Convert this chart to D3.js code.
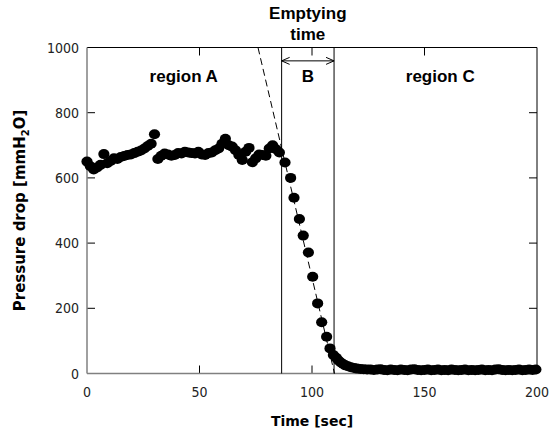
<!DOCTYPE html>
<html lang="en">
<head>
    <meta charset="UTF-8">
    <title>Pressure drop vs time</title>
    <script src="https://d3js.org/d3.v7.min.js"></script>
    <style>
        body { margin: 0; background: #fff; }
        .tick-label { font-family: "DejaVu Sans", sans-serif; font-stretch: condensed; font-size: 14px; fill: #222; }
        .axis-title { font-family: "DejaVu Sans", sans-serif; font-weight: bold; font-size: 14px; fill: #000; }
        .note { font-family: "Liberation Sans", Arial, sans-serif; font-weight: bold; font-size: 17px; fill: #000; text-anchor: middle; }
    </style>
</head>
<body>
<svg width="556" height="431"></svg>
<script>
    // measured points
    const timeA = [0, 1.5, 3, 4.5, 6, 7.5, 9, 10.5, 12, 13.5, 15, 16.5, 18, 19.5, 21, 22.5, 24, 25.5, 27, 28.5,
        30, 31.5, 33, 34.5, 36, 37.5, 39, 40.5, 42, 43.5, 45, 46.5, 48, 49.5, 51, 52.5, 54, 55.5, 57, 58.5,
        60, 61.5, 63, 64.5, 66, 67.5, 69, 70.5, 72, 73.5, 75, 76.5, 78, 79.5, 81, 82.5, 84, 85.5];
    const pressA = [650, 636, 626, 632, 640, 673, 645, 652, 660, 658, 664, 667, 670, 672, 676, 680, 684, 690, 698, 705,
        734, 658, 668, 675, 672, 668, 670, 676, 675, 680, 678, 676, 675, 680, 672, 670, 676, 678, 685, 690,
        705, 720, 700, 696, 685, 670, 655, 680, 692, 648, 660, 672, 670, 668, 690, 700, 688, 678];
    const timeB = [88, 90.5, 92, 94.4, 96.1, 98.4, 100.3, 102.5, 104.3, 106.5, 108, 109.5];
    const pressB = [647, 600, 539, 474, 423, 371, 297, 215, 157, 113, 77, 57];
    const timeC = [110.8, 111.8, 112.8, 113.8, 114.8, 116, 117.3, 118.7, 120, 121.5, 123, 124.5, 126, 127.5, 129,
        130.5, 132, 133.5, 135, 136.5, 138, 139.5, 141, 142.5, 144, 145.5, 147, 148.5, 150, 151.5, 153, 154.5,
        156, 157.5, 159, 160.5, 162, 163.5, 165, 166.5, 168, 169.5, 171, 172.5, 174, 175.5, 177, 178.5, 180,
        181.5, 183, 184.5, 186, 187.5, 189, 190.5, 192, 193.5, 195, 196.5, 198, 199.5];
    const pressC = [48, 40, 34, 29, 25, 22, 19, 17, 15, 14, 13, 12, 12, 11, 12,
        13, 11, 10, 12, 11, 10, 12, 11, 10, 12, 13, 11, 10, 11, 12, 10, 11,
        12, 10, 11, 10, 12, 11, 10, 11, 12, 10, 11, 10, 11, 12, 10, 11, 10,
        12, 13, 11, 10, 11, 10, 11, 12, 10, 11, 12, 11, 12];

    const xTicks = [0, 50, 100, 150, 200];
    const yTicks = [0, 200, 400, 600, 800, 1000];

    // annotations
    const emptyStart = 86.5, emptyEnd = 109.8;
    const fitLine = [[76, 1000], [110, 0]];
    const regionLabels = [
        { t: 43, text: "region A" },
        { t: 98.2, text: "B" },
        { t: 157, text: "region C" }
    ];

    const svg = d3.select("svg");
    const pLeft = 87, pRight = 537, pTop = 47.5, pBottom = 373.5;

    const x = d3.scaleLinear().domain([0, 200]).range([pLeft, pRight]);
    const y = d3.scaleLinear().domain([0, 1000]).range([pBottom, pTop]);

    const points = [];
    timeA.forEach((t, i) => points.push({ t: t, p: pressA[i] }));
    timeB.forEach((t, i) => points.push({ t: t, p: pressB[i] }));
    timeC.forEach((t, i) => points.push({ t: t, p: pressC[i] }));

    // inward ticks on all four sides
    const tickLen = 8;
    const g = svg.append("g").attr("stroke", "#000").attr("stroke-width", 1);
    xTicks.slice(1, -1).forEach(t => {
        g.append("line").attr("x1", x(t)).attr("x2", x(t)).attr("y1", pBottom).attr("y2", pBottom - tickLen);
        g.append("line").attr("x1", x(t)).attr("x2", x(t)).attr("y1", pTop).attr("y2", pTop + tickLen);
    });
    yTicks.slice(1, -1).forEach(v => {
        g.append("line").attr("x1", pLeft).attr("x2", pLeft + tickLen).attr("y1", y(v)).attr("y2", y(v));
        g.append("line").attr("x1", pRight).attr("x2", pRight - tickLen).attr("y1", y(v)).attr("y2", y(v));
    });

    // frame
    svg.append("line").attr("x1", pLeft).attr("x2", pRight).attr("y1", pTop).attr("y2", pTop).attr("stroke", "#000");
    svg.append("line").attr("x1", pRight).attr("x2", pRight).attr("y1", pTop).attr("y2", pBottom).attr("stroke", "#000");
    svg.append("line").attr("x1", pLeft).attr("x2", pLeft).attr("y1", pTop).attr("y2", pBottom)
        .attr("stroke", "#808080").attr("stroke-width", 1.5);
    svg.append("line").attr("x1", pLeft).attr("x2", pRight).attr("y1", pBottom).attr("y2", pBottom)
        .attr("stroke", "#808080").attr("stroke-width", 1.5);

    // tick labels
    svg.selectAll(".xl").data(xTicks).enter().append("text")
        .attr("class", "tick-label")
        .attr("x", d => x(d)).attr("y", pBottom + 23)
        .attr("text-anchor", "middle")
        .text(d => d);
    svg.selectAll(".yl").data(yTicks).enter().append("text")
        .attr("class", "tick-label")
        .attr("x", pLeft - 8).attr("y", d => y(d) + 5)
        .attr("text-anchor", "end")
        .text(d => d);

    // axis titles
    svg.append("text").attr("class", "axis-title")
        .attr("x", (pLeft + pRight) / 2).attr("y", 426)
        .attr("text-anchor", "middle")
        .text("Time [sec]");
    const yt = svg.append("text").attr("class", "axis-title")
        .style("font-size", "15px")
        .attr("transform", `translate(25,${(pTop + pBottom) / 2}) rotate(-90)`)
        .attr("text-anchor", "middle");
    yt.append("tspan").text("Pressure drop [mmH");
    yt.append("tspan").attr("font-size", "10px").attr("dy", 4).text("2");
    yt.append("tspan").attr("dy", -4).text("O]");

    // emptying time boundaries
    [emptyStart, emptyEnd].forEach(t => {
        svg.append("line").attr("x1", x(t)).attr("x2", x(t)).attr("y1", pTop).attr("y2", pBottom)
            .attr("stroke", "#000").attr("stroke-width", 1);
    });

    // fitted dashed line
    svg.append("line")
        .attr("x1", x(fitLine[0][0])).attr("y1", y(fitLine[0][1]))
        .attr("x2", x(fitLine[1][0])).attr("y2", y(fitLine[1][1]))
        .attr("stroke", "#000").attr("stroke-width", 1).attr("stroke-dasharray", "7,4");

    // double arrow for B
    const ay = y(959);
    svg.append("line").attr("x1", x(emptyStart)).attr("x2", x(emptyEnd)).attr("y1", ay).attr("y2", ay)
        .attr("stroke", "#000").attr("stroke-width", 1);
    const ah = 8, aw = 3.5;
    svg.append("path")
        .attr("d", `M${x(emptyStart) + ah},${ay - aw} L${x(emptyStart)},${ay} L${x(emptyStart) + ah},${ay + aw}`)
        .attr("fill", "none").attr("stroke", "#000");
    svg.append("path")
        .attr("d", `M${x(emptyEnd) - ah},${ay - aw} L${x(emptyEnd)},${ay} L${x(emptyEnd) - ah},${ay + aw}`)
        .attr("fill", "none").attr("stroke", "#000");

    // labels
    const mid = (x(emptyStart) + x(emptyEnd)) / 2;
    svg.append("text").attr("class", "note").attr("x", mid).attr("y", 19).text("Emptying");
    svg.append("text").attr("class", "note").attr("x", mid).attr("y", 40).text("time");
    svg.selectAll(".region").data(regionLabels).enter().append("text")
        .attr("class", "note")
        .attr("x", d => x(d.t)).attr("y", 82)
        .text(d => d.text);

    // data points
    svg.selectAll(".pt").data(points).enter().append("ellipse")
        .attr("cx", d => x(d.t)).attr("cy", d => y(d.p))
        .attr("rx", 5.6).attr("ry", 5)
        .attr("fill", "#000");
</script>
</body>
</html>
